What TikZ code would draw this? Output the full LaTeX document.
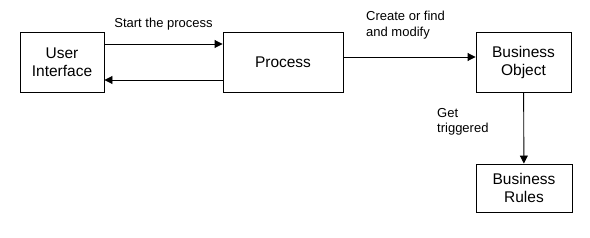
\documentclass[tikz,border=0pt]{standalone}
\usepackage{fontspec}
\setmainfont{Liberation Sans}
\usetikzlibrary{arrows.meta,positioning}

\begin{document}
\begin{tikzpicture}[x=1pt, y=-1pt, >={Triangle[length=8pt,width=8pt]},
  part/.style={draw, line width=0.9pt, inner sep=0pt, align=center, font=\fontsize{15.5}{18}\selectfont},
  note/.style={inner sep=0pt, align=left, font=\fontsize{13}{15.5}\selectfont}]
  \useasboundingbox (0,0) rectangle (590,238);
  \node[part, minimum width=84pt, minimum height=60pt] (ui) at (62,62) {User\\Interface};
  \node[part, minimum width=120pt, minimum height=60pt] (proc) at (283,62) {Process};
  \node[part, minimum width=95pt, minimum height=60pt] (bo) at (523.5,62) {Business\\Object};
  \node[part, minimum width=96pt, minimum height=48pt] (br) at (524,188) {Business\\Rules};
  \draw[->, line width=0.9pt] ([yshift=18pt]ui.east) -- ([yshift=18pt]proc.west)
    node[note, midway, above=13pt] (start) {Start the process};
  \draw[->, line width=0.9pt] ([yshift=-18pt]proc.west) -- ([yshift=-18pt]ui.east);
  \draw[->, line width=0.9pt] ([yshift=5pt]proc.east) -- ([yshift=5pt]bo.west);
  \draw[->, line width=0.9pt] (bo) -- (br);
  \node[note, anchor=west] (create) at (366,25) {Create or find\\and modify};
  \node[note, anchor=west] (trig) at (437,122) {Get\\triggered};
\end{tikzpicture}
\end{document}
